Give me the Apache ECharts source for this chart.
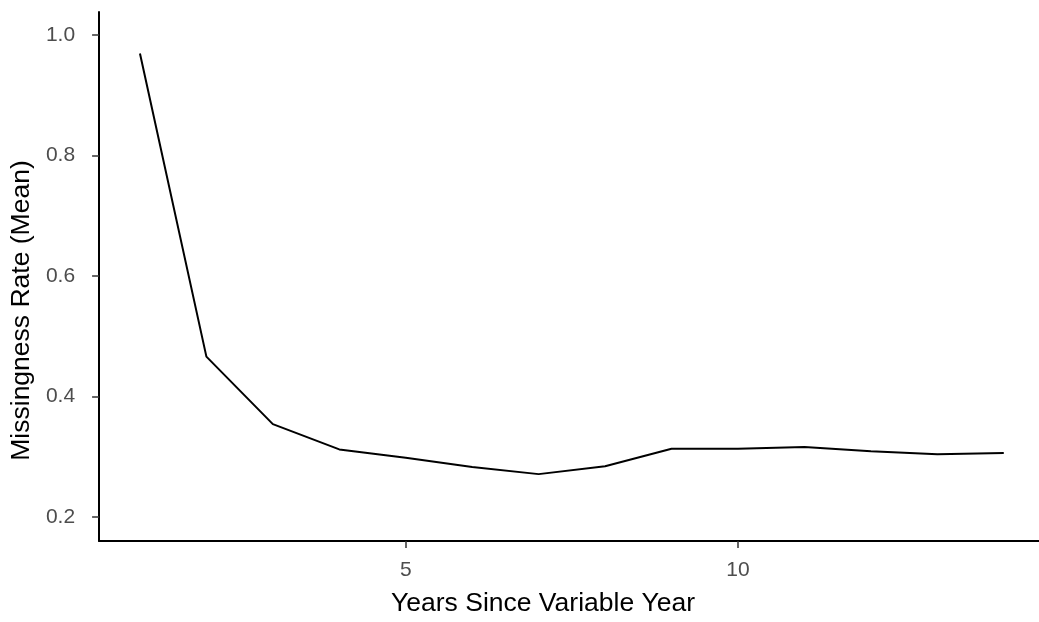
<!DOCTYPE html>
<html>
<head>
<meta charset="utf-8">
<script src="https://cdn.jsdelivr.net/npm/echarts@6/dist/echarts.min.js"></script>
<style>
html,body{margin:0;padding:0;background:#fff;}
#chart{width:1039px;height:622px;}
</style>
</head>
<body>
<div id="chart"></div>
<script>
const years = [1,2,3,4,5,6,7,8,9,10,11,12,13,14];
const missingRate = [0.969,0.466,0.354,0.312,0.298,0.283,0.271,0.284,0.313,0.313,0.316,0.309,0.304,0.306];
const xTicks = [5,10];
const yTicks = [0.2,0.4,0.6,0.8,1.0];

const chart = echarts.init(document.getElementById('chart'), null, {renderer:'canvas'});
const font = 'Liberation Sans, Arial, sans-serif';
chart.setOption({
  animation:false,
  backgroundColor:'#ffffff',
  grid:{left:97,right:0,top:12,bottom:78,containLabel:false},
  xAxis:{
    type:'value',min:0.385,max:14.53,
    name:'Years Since Variable Year',nameLocation:'middle',nameGap:49,
    nameTextStyle:{color:'#000',fontSize:26.5,fontFamily:font,padding:[0,52,0,0]},
    axisLine:{show:true,onZero:false,lineStyle:{color:'#000',width:2}},
    axisTick:{show:true,length:7,customValues:xTicks,lineStyle:{color:'#333',width:1.5}},
    axisLabel:{customValues:xTicks,color:'#4D4D4D',fontSize:21,fontFamily:font,margin:19},
    splitLine:{show:false}
  },
  yAxis:{
    type:'value',min:0.16,max:1.038,
    name:'Missingness Rate (Mean)',nameLocation:'middle',nameGap:60,nameRotate:90,
    nameTextStyle:{color:'#000',fontSize:26.5,fontFamily:font,padding:[0,68,0,0]},
    axisLine:{show:true,onZero:false,lineStyle:{color:'#000',width:2}},
    axisTick:{show:true,length:7,customValues:yTicks,lineStyle:{color:'#333',width:1.5}},
    axisLabel:{customValues:yTicks,color:'#4D4D4D',fontSize:21,fontFamily:font,margin:24,
      formatter:v=>v.toFixed(1)},
    splitLine:{show:false}
  },
  series:[{
    type:'line',
    data:years.map((x,i)=>[x,missingRate[i]]),
    showSymbol:false,
    lineStyle:{color:'#000',width:2},
    silent:true
  }]
});
</script>
</body>
</html>
